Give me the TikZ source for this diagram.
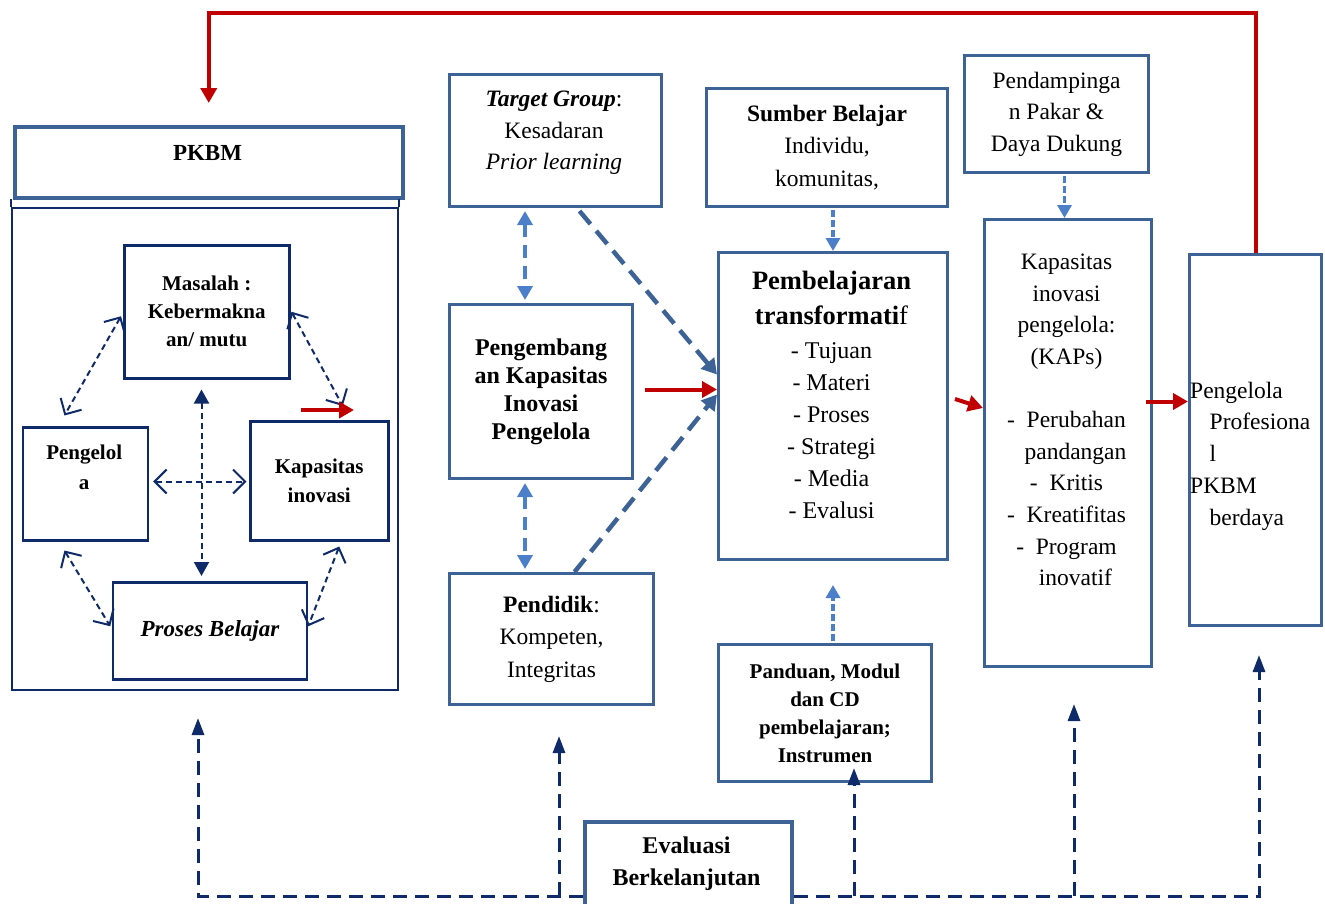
\documentclass[tikz,border=0pt]{standalone}
\usepackage{fontspec}
\setmainfont{Liberation Serif}
\usetikzlibrary{arrows.meta,calc}

\definecolor{boxblue}{HTML}{3D6396}
\definecolor{navy}{HTML}{0F2A69}
\definecolor{lightblue}{HTML}{4C7FC9}
\definecolor{darkred}{HTML}{C00000}

\begin{document}
\begin{tikzpicture}[x=1pt,y=-1pt,>=Latex,
    box/.style={draw=boxblue, line width=3pt, fill=white, inner sep=0pt, align=center, anchor=north west},
    navybox/.style={draw=navy, line width=2.5pt, fill=white, inner sep=0pt, align=center, anchor=north west},
    txt/.style={inner sep=0pt, align=center},
    inarrow/.style={navy, line width=2pt, dash pattern=on 6pt off 4pt,
      {Straight Barb[length=12pt,width=24pt]}-{Straight Barb[length=12pt,width=24pt]}},
    redarrow/.style={darkred, line width=4pt, -{Triangle[length=15pt,width=16pt]}},
    bluelink/.style={lightblue, line width=3.5pt, dash pattern=on 13pt off 8pt,
      {Triangle[length=14pt,width=15pt]}-{Triangle[length=14pt,width=15pt]}, shorten <=3pt, shorten >=3pt},
    softlink/.style={lightblue, line width=3.5pt, dash pattern=on 7pt off 3pt, -{Triangle[length=13pt,width=14pt]}, shorten <=2pt},
    thickdash/.style={boxblue, line width=4.5pt, dash pattern=on 17pt off 9pt, -{Triangle[length=15pt,width=17pt]}},
    fbline/.style={navy, line width=3pt, dash pattern=on 14pt off 8pt, -{Triangle[length=17pt,width=12pt]}}]

  \useasboundingbox (0,0) rectangle (1325,903);

  % ============== Panel: PKBM =================
  \node[box, line width=3.5pt, minimum width=388pt, minimum height=71pt] (pkbmhead) at (13,125) {};
  \node[txt, font=\fontsize{23}{28}\selectfont\bfseries] (pkbmlabel) at (207.5,152.5) {PKBM};

  \node[draw=navy, line width=2pt, anchor=north west, inner sep=0pt,
        minimum width=386pt, minimum height=482pt] (pkbmframe) at (11,207) {};
  \draw[navy, line width=2pt] (pkbmframe.north west) -- ++(0,-8);
  \draw[navy, line width=2pt] (pkbmframe.north east) -- ++(0,-8);

  % inner boxes
  \node[navybox, minimum width=165pt, minimum height=133pt, font=\fontsize{21}{28}\selectfont\bfseries]
    (masalah) at (123,244) {Masalah :\\Kebermakna\\an/ mutu};
  \node[navybox, minimum width=125pt, minimum height=113pt] (pengelola) at (21.7,426) {};
  \node[txt, font=\fontsize{21}{30}\selectfont\bfseries] (pengelolalabel) at (84.2,467) {Pengelol\\a};
  \node[navybox, minimum width=138pt, minimum height=119pt, font=\fontsize{21}{28.5}\selectfont\bfseries]
    (kapinov) at (249,420) {Kapasitas\\inovasi};
  \node[navybox, minimum width=194pt, minimum height=97pt, font=\fontsize{23}{28}\selectfont\bfseries\itshape]
    (proses) at (111.7,581) {Proses Belajar};

  % cross in the middle
  \coordinate (hub) at (201.5,481.5);
  \draw[navy, line width=2pt, dash pattern=on 6pt off 4pt,
        {Triangle[length=14pt,width=15pt]}-{Triangle[length=14pt,width=15pt]},
        shorten <=10pt, shorten >=5pt] (hub |- masalah.south) -- (hub |- proses.north);
  \draw[inarrow, shorten <=4pt, shorten >=2.5pt] (pengelola.east |- hub) -- (kapinov.west |- hub);

  % diagonal links
  \draw[inarrow] ([xshift=-2pt,yshift=-4.5pt]masalah.west) -- ([xshift=-21pt,yshift=10.5pt]pengelola.north);
  \draw[inarrow] ([xshift=1pt]masalah.east) -- ([xshift=23.5pt,yshift=14pt]kapinov.north);
  \draw[inarrow] ([xshift=-21pt,yshift=-9pt]pengelola.south) -- ([xshift=-1.5pt,yshift=4.5pt]proses.west);
  \draw[inarrow] ([xshift=20pt,yshift=-5pt]kapinov.south) -- ([yshift=4.5pt]proses.east);

  \coordinate (redL) at (301,410);
  \coordinate (redR) at (354,410);
  \draw[redarrow] (redL) -- (redR);

  % ============== Panel: inputs =================
  \node[box, minimum width=212pt, minimum height=132pt] (target) at (448,73) {};
  \node[txt, font=\fontsize{23.5}{31.5}\selectfont] (targetlabel) at (554,133)
    {\textbf{\textit{Target Group}}:\\Kesadaran\\\textit{Prior learning}};
  \node[box, minimum width=183pt, minimum height=174pt, font=\fontsize{24}{28}\selectfont\bfseries]
    (pengemb) at (448,303) {Pengembang\\an Kapasitas\\Inovasi\\Pengelola};
  \node[box, minimum width=204pt, minimum height=131pt, font=\fontsize{23.5}{32.5}\selectfont]
    (pendidik) at (448,572) {\textbf{Pendidik}:\\Kompeten,\\Integritas};

  \coordinate (lane) at (525,400);
  \draw[bluelink] (target.south -| lane) -- (pengemb.north -| lane);
  \draw[bluelink] (pengemb.south -| lane) -- (pendidik.north -| lane);

  % ============== Panel: learning =================
  \node[box, minimum width=241pt, minimum height=118pt, font=\fontsize{23.5}{32.5}\selectfont]
    (sumber) at (705,87) {\textbf{Sumber Belajar}\\Individu,\\komunitas,};
  \node[box, minimum width=229pt, minimum height=307pt] (pb) at (717,251) {};
  \node[txt, font=\fontsize{26.5}{35}\selectfont\bfseries] (pbtitle) at (831.5,297.5)
    {Pembelajaran\\transformati{\mdseries f}};
  \node[txt, font=\fontsize{24}{32}\selectfont] (pblist) at (831.5,431)
    {- Tujuan\\- Materi\\- Proses\\- Strategi\\- Media\\- Evalusi};
  \node[box, minimum width=213pt, minimum height=137pt, font=\fontsize{21}{28}\selectfont\bfseries]
    (panduan) at (717,643) {Panduan, Modul\\dan CD\\pembelajaran;\\Instrumen};

  \draw[thickdash] ([xshift=24pt,yshift=-3pt]target.south) -- ([yshift=31.5pt]pb.west);
  \draw[thickdash] ([xshift=23pt]pendidik.north) -- ([yshift=11.5pt]pb.west);
  \draw[redarrow] ([xshift=11pt,yshift=2pt]pengemb.east) -- ([yshift=16.5pt]pb.west);
  \draw[softlink] (sumber.south -| pb.north) -- (pb.north);
  \draw[softlink] (panduan.north -| pb.south) -- ([yshift=-24pt]pb.south);

  % ============== Panel: outcomes =================
  \node[box, minimum width=184pt, minimum height=117pt, font=\fontsize{23.5}{31.5}\selectfont]
    (pendamp) at (963,54) {Pendampinga\\n Pakar \&\\Daya Dukung};
  \node[box, minimum width=167pt, minimum height=447pt] (kaps) at (983,218) {};
  \node[txt, font=\fontsize{23.5}{31.6}\selectfont] (kapslabel) at (1066.5,420)
    {Kapasitas\\inovasi\\pengelola:\\(KAPs)\\[31.6pt]-\ \ Perubahan\\\hspace*{18pt}pandangan\\-\ \ Kritis\\-\ \ Kreatifitas\\-\ \ Program\\\hspace*{18pt}inovatif};
  \node[box, minimum width=132pt, minimum height=371pt] (prof) at (1188,253) {};
  \node[txt, anchor=west, align=left, font=\fontsize{23.5}{31.75}\selectfont] (proflabel) at (1190,456)
    {Pengelola\\\hspace*{19.5pt}Profesiona\\\hspace*{19.5pt}l\\PKBM\\\hspace*{19.5pt}berdaya};

  \draw[softlink] ([xshift=-3.5pt]kaps.north |- pendamp.south) -- ([xshift=-3.5pt]kaps.north);
  \draw[redarrow] ([xshift=6pt,yshift=7pt]pb.east) -- ([yshift=35pt]kaps.west);
  \draw[redarrow] ([xshift=-7pt,yshift=41.5pt]kaps.east) -- ([yshift=38.5pt]prof.west);

  % feedback to PKBM
  \draw[redarrow] (prof.north) -- ++(0,-240) -| ([yshift=22pt]pkbmhead.north);

  % ============== Panel: evaluation =================
  \node[box, line width=3.5pt, minimum width=207pt, minimum height=100pt] (eval) at (583,820) {};
  \node[txt, font=\fontsize{24}{32}\selectfont\bfseries] (evallabel) at (686.5,864) {Evaluasi\\Berkelanjutan};

  \coordinate (fb) at (0,896);
  \coordinate (tipA) at (198,718);
  \coordinate (tipB) at (559,736);
  \coordinate (tipC) at (854,768);
  \coordinate (tipD) at (1074,704);
  \coordinate (tipE) at (1259,655);

  \draw[fbline] (eval.west |- fb) -| (tipA);
  \draw[fbline] (tipB |- fb) -- (tipB);
  \draw[fbline] (tipC |- fb) -- (tipC);
  \draw[fbline] (tipD |- fb) -- (tipD);
  \draw[fbline] (eval.east |- fb) -| (tipE);

\end{tikzpicture}
\end{document}
